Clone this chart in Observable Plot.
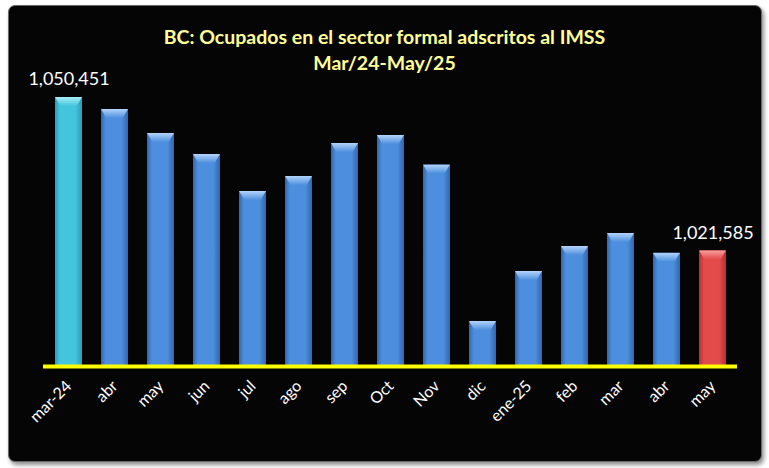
<!DOCTYPE html>
<html><head><meta charset="utf-8">
<script src="https://cdn.jsdelivr.net/npm/d3@7"></script>
<script src="https://cdn.jsdelivr.net/npm/@observablehq/plot@0.6"></script>
<style>
html,body{margin:0;padding:0;background:#fff;}
#wrap{position:relative;width:769px;height:468px;overflow:hidden;font-family:Lato,"Open Sans",sans-serif;}
#box{position:absolute;left:8px;top:5px;width:752px;height:455px;background:#050505;border:1px solid #6a6a6a;border-radius:7px;box-shadow:2px 3px 4px rgba(0,0,0,0.45);}
#title{position:relative;padding-top:24px;line-height:26px;height:52px;margin-bottom:-16px;text-align:center;color:#ffff99;font-weight:bold;font-size:19.5px;}
#chart{position:relative;}
</style></head><body>
<div id="wrap">
  <div id="box"></div>
  <div id="title"><div>BC: Ocupados en el sector formal adscritos al IMSS</div><div>Mar/24-May/25</div></div>
  <div id="chart"></div>
</div>
<script>
const categories = ["mar-24","abr","may","jun","jul","ago","sep","Oct","Nov","dic","ene-25","feb","mar","abr","may"];
const values = [1050451,1048192,1043674,1039721,1032756,1035579,1041792,1043298,1037744,1008283,1017696,1022402,1024849,1021141,1021585];
const labelledIdx = [0, 14];
const yMin = 1000000;

const n = categories.length;
const idx = d3.range(n);
const fmt = d3.format(",");
const kind = i => i === 0 ? "cyan" : (i === n - 1 ? "red" : "blue");

const chart = Plot.plot({
  width: 769, height: 408,
  marginLeft: 43, marginRight: 32, marginTop: 37, marginBottom: 103,
  style: {background: "transparent", overflow: "visible", color: "white"},
  x: {domain: idx, paddingInner: 0.42, paddingOuter: 0.22, axis: null},
  y: {domain: [yMin, values[0]], axis: null},
  color: {type: "identity"},
  marks: [
    Plot.barY(idx, {x: i => i, y1: yMin, y2: i => values[i], fill: i => `url(#body-${kind(i)})`}),
    Plot.barY(idx, {x: i => i, y1: i => values[i], y2: i => values[i], insetBottom: -9, fill: i => `url(#bev-${kind(i)})`}),
    Plot.ruleY([yMin], {stroke: "#ffff00", strokeWidth: 4, dy: 1}),
    Plot.axisX({domain: idx, tickRotate: -45, tickSize: 0, tickPadding: 18, fontSize: 16, tickFormat: i => categories[i], fill: "white", fontFamily: "Lato"}),
    Plot.text(labelledIdx, {x: i => i, y: i => values[i], text: i => fmt(values[i]), dy: -18, fill: "white", fontSize: 18, fontFamily: "Lato"})
  ]
});

const svg = d3.select(chart);
const defs = svg.insert("defs", ":first-child");
const pal = {
  blue: {edge: "#3366ad", center: "#4d8fde", top: "#b3d4fa"},
  cyan: {edge: "#2a9db8", center: "#44c5de", top: "#a8eef8"},
  red: {edge: "#b33030", center: "#e34a4a", top: "#f8a0a0"}
};
for (const [k, c] of Object.entries(pal)) {
  const g = defs.append("linearGradient").attr("id", `body-${k}`).attr("x1", 0).attr("x2", 1).attr("y1", 0).attr("y2", 0);
  g.append("stop").attr("offset", "0%").attr("stop-color", c.edge);
  g.append("stop").attr("offset", "18%").attr("stop-color", c.center);
  g.append("stop").attr("offset", "75%").attr("stop-color", c.center);
  g.append("stop").attr("offset", "100%").attr("stop-color", c.edge);
  const b = defs.append("linearGradient").attr("id", `bev-${k}`).attr("x1", 0).attr("x2", 0).attr("y1", 0).attr("y2", 1);
  b.append("stop").attr("offset", "0%").attr("stop-color", c.top);
  b.append("stop").attr("offset", "100%").attr("stop-color", c.center);
}
defs.append("clipPath").attr("id", "trap").attr("clipPathUnits", "objectBoundingBox")
  .append("polygon").attr("points", "0,0 1,0 0.8,1 0.2,1");
svg.selectAll("rect").filter(function() { return (this.getAttribute("fill") || "").startsWith("url(#bev"); })
  .attr("clip-path", "url(#trap)");

document.getElementById("chart").appendChild(chart);
</script></body></html>
